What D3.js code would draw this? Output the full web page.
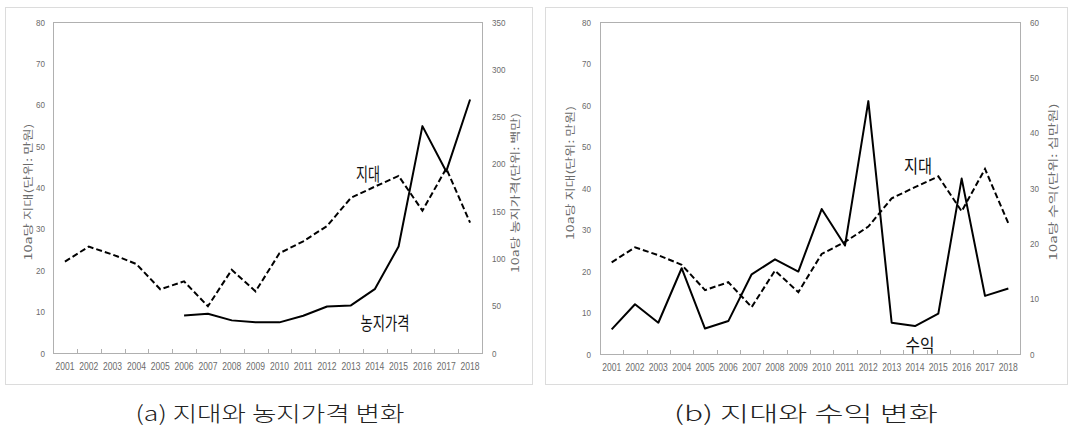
<!DOCTYPE html>
<html><head><meta charset="utf-8">
<script src="https://cdn.jsdelivr.net/npm/d3@7"></script>
<style>body{margin:0;background:#fff}</style>
</head><body>
<svg id="c" width="1068" height="429"></svg>
<script>
const years = ["2001","2002","2003","2004","2005","2006","2007","2008","2009","2010","2011","2012","2013","2014","2015","2016","2017","2018"];
const rent = [22.1,25.7,23.8,21.5,15.4,17.3,11.3,20.1,14.9,24.1,27.0,30.7,37.5,40.2,42.8,34.4,44.6,31.5];
const landPrice = [null,null,null,null,null,39.7,41.5,34.5,32.4,32.4,39.4,49.2,50.3,67.5,112.6,239.9,192,268];
const income = [4.45,9.0,5.65,15.5,4.6,5.95,14.4,17.1,14.9,26.2,19.6,45.7,5.65,5.05,7.3,31.7,10.5,11.85];
const rentTicks = [0,10,20,30,40,50,60,70,80];
const landTicks = [0,50,100,150,200,250,300,350];
const incomeTicks = [0,10,20,30,40,50,60];

const svg = d3.select("#c");
const tickFont = "'Liberation Sans','Arial',sans-serif";
const krFont = "'Noto Sans CJK KR',sans-serif";
const gray = "#6b6b6b";

function panel(cfg){
  const g = svg.append("g");
  g.append("rect").attr("x",cfg.box[0]+0.5).attr("y",cfg.box[1]+0.5)
    .attr("width",cfg.box[2]-cfg.box[0]).attr("height",cfg.box[3]-cfg.box[1])
    .attr("fill","none").attr("stroke","#dcdcdc");
  const [L,T,R,B] = cfg.plot;
  const x = d3.scaleBand().domain(years).range([L,R]).padding(0);
  const yL = d3.scaleLinear().domain([0,80]).range([B,T]);
  const yR = d3.scaleLinear().domain([0,cfg.rMax]).range([B,T]);
  g.append("rect").attr("x",L+0.5).attr("y",T+0.5).attr("width",R-L).attr("height",B-T)
    .attr("fill","none").attr("stroke","#b0b0b0");
  g.selectAll(".bt").data(years.slice(1)).join("line")
    .attr("x1",d=>Math.round(x(d))+0.5).attr("x2",d=>Math.round(x(d))+0.5)
    .attr("y1",B).attr("y2",B-4).attr("stroke","#b0b0b0");
  const ax = g.append("g").attr("transform",`translate(0,${B})`)
    .call(d3.axisBottom(x).tickSize(0).tickPadding(10));
  ax.select(".domain").remove();
  const ayl = g.append("g").attr("transform",`translate(${L},0)`)
    .call(d3.axisLeft(yL).tickValues(rentTicks).tickSize(0).tickPadding(cfg.padL));
  ayl.select(".domain").remove();
  const ayr = g.append("g").attr("transform",`translate(${R},0)`)
    .call(d3.axisRight(yR).tickValues(cfg.rTicks).tickSize(0).tickPadding(10));
  ayr.select(".domain").remove();
  g.selectAll(".tick text").attr("font-family",tickFont).attr("font-size",9.5).attr("fill",gray);
  ax.selectAll(".tick text").attr("font-size",10.5).attr("textLength",19).attr("lengthAdjust","spacingAndGlyphs");
  ayl.selectAll(".tick text").attr("transform","scale(0.85,1)").attr("x",-cfg.padL/0.85);
  ayr.selectAll(".tick text").attr("transform","scale(0.85,1)").attr("x",10/0.85);

  g.append("text").attr("transform",`translate(${cfg.titleL[0]},${cfg.titleL[1]}) rotate(-90)`)
    .attr("text-anchor","middle").attr("dominant-baseline","central")
    .attr("font-family",krFont).attr("font-size",10).attr("fill",gray)
    .attr("textLength",cfg.titleL[2]).attr("lengthAdjust","spacingAndGlyphs").text("10a당 지대(단위: 만원)");
  g.append("text").attr("transform",`translate(${cfg.titleR[0]},${cfg.titleR[1]}) rotate(-90)`)
    .attr("text-anchor","middle").attr("dominant-baseline","central")
    .attr("font-family",krFont).attr("font-size",10).attr("fill",gray)
    .attr("textLength",cfg.titleR[2]).attr("lengthAdjust","spacingAndGlyphs").text(cfg.titleRText);

  const cx = d => x(d)+x.bandwidth()/2;
  const dashed = d3.line().x((d,i)=>cx(years[i])).y(d=>yL(d));
  g.append("path").attr("d",dashed(rent)).attr("fill","none").attr("stroke","#000")
    .attr("stroke-width",2).attr("stroke-dasharray","6,3");
  const solid = d3.line().defined(d=>d!=null).x((d,i)=>cx(years[i])).y(d=>yR(d));
  g.append("path").attr("d",solid(cfg.rData)).attr("fill","none").attr("stroke","#000")
    .attr("stroke-width",2).attr("stroke-linejoin","round");

  cfg.notes.forEach(n=>{
    g.append("text").attr("x",n[0]).attr("y",n[1]).attr("text-anchor","middle")
      .attr("dominant-baseline","central").attr("font-family",krFont).attr("font-size",18)
      .attr("fill","#111").attr("textLength",n[3]).attr("lengthAdjust","spacingAndGlyphs").text(n[2]);
  });
  g.append("text").attr("x",cfg.cap[0]).attr("y",cfg.cap[1]).attr("text-anchor","middle")
    .attr("dominant-baseline","central").attr("font-family",krFont).attr("font-weight",300)
    .attr("font-size",21).attr("fill","#222").attr("textLength",cfg.cap[2])
    .attr("lengthAdjust","spacingAndGlyphs").text(cfg.cap[3]);
}

panel({box:[5,7,532,384], plot:[53,22,482,353], rMax:350, rTicks:landTicks, rData:landPrice, padL:8,
  titleL:[27,192,137], titleR:[514,193,160], titleRText:"10a당 농지가격(단위: 백만)",
  notes:[[368,173,"지대",24],[385,322,"농지가격",49]],
  cap:[270,412,269,"(a) 지대와 농지가격 변화"]});
panel({box:[545,7,1067,384], plot:[600,22,1020,354], rMax:60, rTicks:incomeTicks, rData:income, padL:9,
  titleL:[569,173,134], titleR:[1052,182,157], titleRText:"10a당 수익(단위: 십만원)",
  notes:[[918,165,"지대",28],[920,344,"수익",29]],
  cap:[806,412,264,"(b) 지대와 수익 변화"]});
</script>
</body></html>
